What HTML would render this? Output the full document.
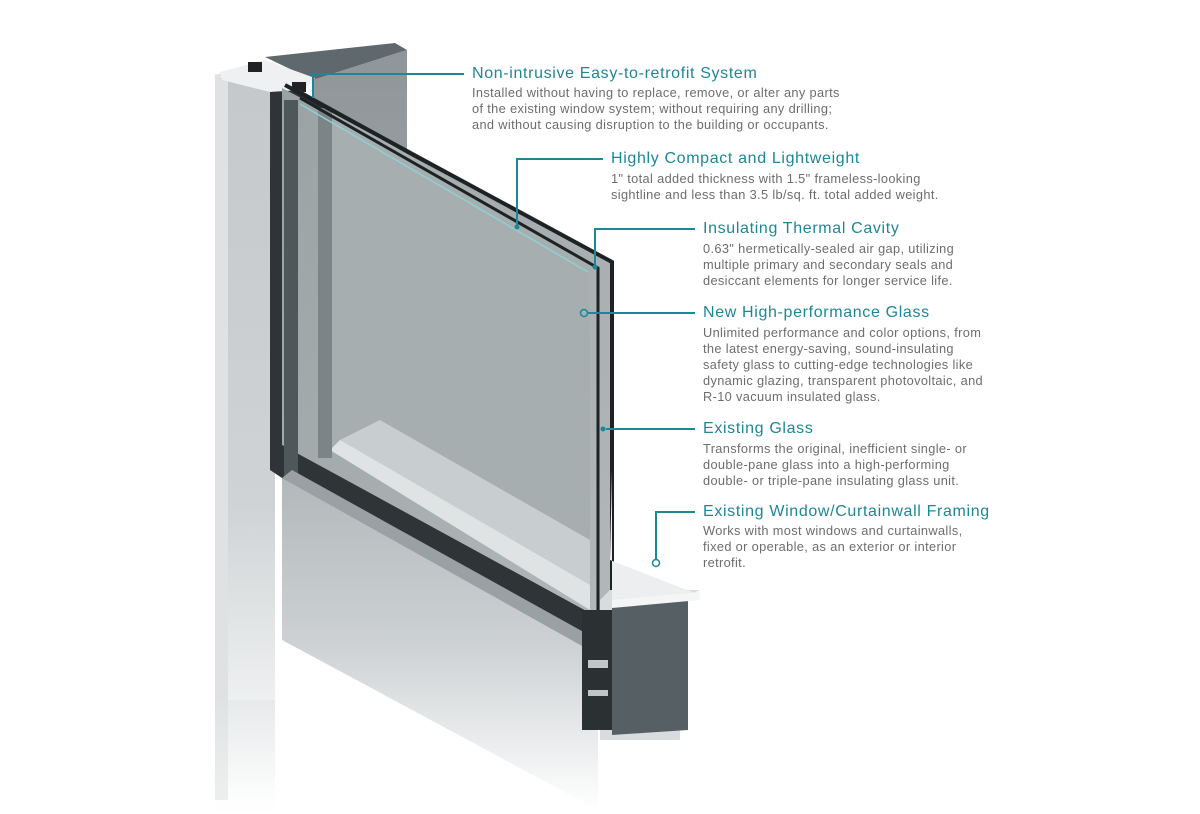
<!DOCTYPE html>
<html><head><meta charset="utf-8"><style>
html,body{margin:0;padding:0;background:#fff;}
body{width:1200px;height:814px;position:relative;overflow:hidden;font-family:"Liberation Sans",sans-serif;}
.h{position:absolute;color:#1e8796;font-size:16px;letter-spacing:0.65px;white-space:nowrap;}
.b{position:absolute;color:#6d6d6d;font-size:12.8px;line-height:16px;white-space:nowrap;letter-spacing:0.35px;}
svg{position:absolute;left:0;top:0;}
</style></head><body>
<svg width="1200" height="814" viewBox="0 0 1200 814">
<defs>
<linearGradient id="lf" x1="0" y1="0" x2="0" y2="1">
<stop offset="0" stop-color="#c4c8cb"/><stop offset="0.6" stop-color="#d0d3d5"/><stop offset="0.85" stop-color="#eceeef"/><stop offset="1" stop-color="#fff"/></linearGradient>
<linearGradient id="bx" x1="0" y1="0" x2="0" y2="1">
<stop offset="0" stop-color="#8f9699"/><stop offset="1" stop-color="#a7adb0"/></linearGradient>
<linearGradient id="gl" x1="0" y1="0" x2="1" y2="1">
<stop offset="0" stop-color="#9aa2a4"/><stop offset="1" stop-color="#b2b8ba"/></linearGradient>
<linearGradient id="sill" x1="0" y1="0" x2="0" y2="1">
<stop offset="0" stop-color="#b3b8bb"/><stop offset="0.5" stop-color="#cdd1d3"/><stop offset="1" stop-color="#fff"/></linearGradient>
<linearGradient id="refl" x1="0" y1="0" x2="0" y2="1">
<stop offset="0" stop-color="#e0e3e4"/><stop offset="1" stop-color="#fff"/></linearGradient>
</defs>
<polygon points="215,75 265,62 275,75 275,800 215,800" fill="url(#lf)"/>
<polygon points="215,75 228,72 228,800 215,800" fill="#dfe2e3"/>
<polygon points="265,57 395,43 407,50 313,80" fill="#5f686c"/>
<polygon points="313,80 407,50 407,470 313,470" fill="url(#bx)"/>
<polygon points="220,72 265,60 315,78 300,95 270,92 222,80" fill="#eef0f1"/>
<rect x="248" y="62" width="14" height="10" fill="#222"/>
<rect x="292" y="82" width="14" height="10" fill="#222"/>
<polygon points="270,92 300,90 612,262 612,640 590,650 282,478 270,470" fill="#2f3537"/>
<polygon points="282,88 612,262 612,625 282,445" fill="url(#gl)"/>
<polygon points="330,110 590,258 590,610 330,450" fill="#a6aeb0"/>
<polygon points="340,440 380,420 590,540 590,610" fill="#c8ced0"/>
<polygon points="330,450 340,440 590,585 590,610" fill="#dfe3e4"/>
<rect x="284" y="100" width="14" height="380" fill="#4e585b"/>
<rect x="318" y="108" width="14" height="350" fill="#7b8588"/>
<polyline points="285,85 612,262 612,625" fill="none" stroke="#1d2224" stroke-width="4"/>
<polyline points="300,98 598,268 598,610" fill="none" stroke="#1d2224" stroke-width="3"/>
<polyline points="300,104 588,272" fill="none" stroke="#8fd0d0" stroke-width="1.5"/>
<polygon points="282,478 598,655 598,810 282,640" fill="url(#sill)"/>
<polygon points="282,478 292,470 598,640 598,655" fill="#9aa1a4"/>
<polygon points="600,600 610,590 700,590 680,600 680,740 600,740" fill="#d9dcde"/>
<polygon points="612,600 688,600 688,730 612,735" fill="#566064"/>
<polygon points="612,470 612,600 700,595 610,560" fill="#eceeef"/>
<polygon points="612,600 700,592 700,600 612,608" fill="#f4f5f5"/>
<rect x="582" y="610" width="30" height="120" fill="#2b3133"/>
<rect x="588" y="660" width="20" height="8" fill="#c0c5c7"/>
<rect x="588" y="690" width="20" height="6" fill="#c0c5c7"/>
<polygon points="215,700 275,700 275,814 215,814" fill="url(#refl)" opacity="0.5"/>
<g stroke="#1e8796" stroke-width="2" fill="none">
<polyline points="464,74 313,74 313,98"/>
<polyline points="603,159 517,159 517,226"/>
<polyline points="695,229 595,229 595,267"/>
<polyline points="695,313 587,313"/>
<polyline points="695,429 606,429"/>
<polyline points="695,512 656,512 656,559"/>
</g>
<g fill="#1e8796"><circle cx="517" cy="227" r="2.5"/><circle cx="595" cy="267" r="2.5"/><circle cx="603" cy="429" r="2.5"/></g>
<circle cx="584" cy="313" r="3.5" fill="none" stroke="#1e8796" stroke-width="1.5"/>
<circle cx="656" cy="563" r="3.5" fill="#fff" stroke="#1e8796" stroke-width="1.5"/>
</svg>

<div class="h" style="left:472px;top:65px">Non-intrusive Easy-to-retrofit System</div>
<div class="b" style="left:472px;top:85px">Installed without having to replace, remove, or alter any parts<br>of the existing window system; without requiring any drilling;<br>and without causing disruption to the building or occupants.</div>

<div class="h" style="left:611px;top:150px">Highly Compact and Lightweight</div>
<div class="b" style="left:611px;top:171px">1" total added thickness with 1.5" frameless-looking<br>sightline and less than 3.5 lb/sq. ft. total added weight.</div>

<div class="h" style="left:703px;top:220px">Insulating Thermal Cavity</div>
<div class="b" style="left:703px;top:241px">0.63" hermetically-sealed air gap, utilizing<br>multiple primary and secondary seals and<br>desiccant elements for longer service life.</div>

<div class="h" style="left:703px;top:304px">New High-performance Glass</div>
<div class="b" style="left:703px;top:325px">Unlimited performance and color options, from<br>the latest energy-saving, sound-insulating<br>safety glass to cutting-edge technologies like<br>dynamic glazing, transparent photovoltaic, and<br>R-10 vacuum insulated glass.</div>

<div class="h" style="left:703px;top:420px">Existing Glass</div>
<div class="b" style="left:703px;top:441px">Transforms the original, inefficient single- or<br>double-pane glass into a high-performing<br>double- or triple-pane insulating glass unit.</div>

<div class="h" style="left:703px;top:503px">Existing Window/Curtainwall Framing</div>
<div class="b" style="left:703px;top:523px">Works with most windows and curtainwalls,<br>fixed or operable, as an exterior or interior<br>retrofit.</div>
</body></html>
